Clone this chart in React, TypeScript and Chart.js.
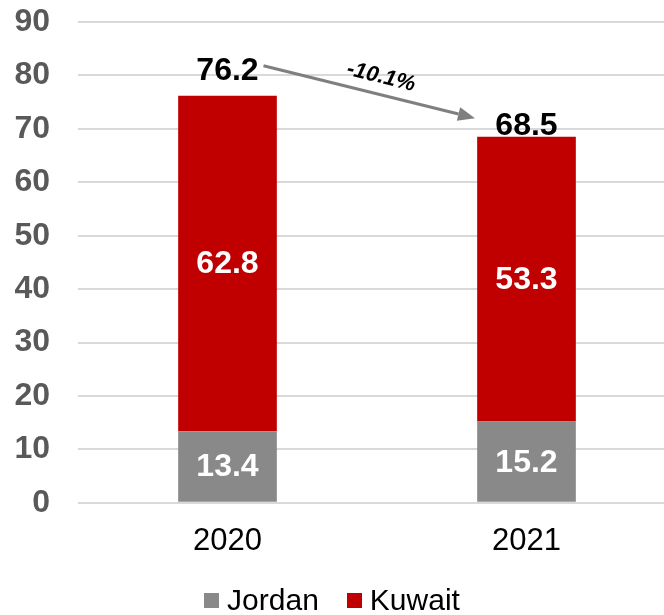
import React, { useEffect, useRef } from "react";
import { Chart, registerables } from "chart.js";

Chart.register(...registerables);

// ---- data ----
const categories = ["2020", "2021"];
const seriesNames = ["Jordan", "Kuwait"];
const jordanValues = [13.4, 15.2];
const kuwaitValues = [62.8, 53.3];
const seriesColors = ["#898989", "#C00000"];
const yMin = 0;
const yMax = 90;
const yStep = 10;

const FONT = '"Liberation Sans", Arial, Helvetica, sans-serif';

// label offsets above each stacked bar (style)
const totalLabelDy = [-26, -12];

const labelPlugin = {
  id: "labelPlugin",
  afterDatasetsDraw(chart: any) {
    const ctx = chart.ctx as CanvasRenderingContext2D;
    ctx.save();
    ctx.textAlign = "center";
    ctx.textBaseline = "middle";
    ctx.font = `bold 32px ${FONT}`;
    ctx.fillStyle = "#ffffff";
    chart.data.datasets.forEach((ds: any, di: number) => {
      const meta = chart.getDatasetMeta(di);
      meta.data.forEach((el: any, i: number) => {
        const { x, y, base } = el.getProps(["x", "y", "base"], true);
        ctx.fillText(Number(ds.data[i]).toFixed(1), x, (y + base) / 2 + 1);
      });
    });

    // totals
    const topMeta = chart.getDatasetMeta(chart.data.datasets.length - 1);
    const totals = categories.map((_, i) => jordanValues[i] + kuwaitValues[i]);
    ctx.fillStyle = "#000000";
    const pts = topMeta.data.map((el: any) => el.getProps(["x", "y"], true));
    pts.forEach((p: any, i: number) => {
      ctx.fillText(totals[i].toFixed(1), p.x, p.y + totalLabelDy[i] + 1);
    });

    // arrow between totals
    if (pts.length >= 2) {
      const sx = pts[0].x + 36;
      const sy = pts[0].y - 30;
      const ex = pts[1].x - 51.5;
      const ey = pts[1].y - 18.7;
      const ang = Math.atan2(ey - sy, ex - sx);
      const headLen = 17;
      const headHalf = 7;
      const bx = ex - headLen * Math.cos(ang);
      const by = ey - headLen * Math.sin(ang);
      ctx.strokeStyle = "#7F7F7F";
      ctx.fillStyle = "#7F7F7F";
      ctx.lineWidth = 3;
      ctx.beginPath();
      ctx.moveTo(sx, sy);
      ctx.lineTo(bx, by);
      ctx.stroke();
      ctx.beginPath();
      ctx.moveTo(ex, ey);
      ctx.lineTo(bx + headHalf * Math.sin(ang), by - headHalf * Math.cos(ang));
      ctx.lineTo(bx - headHalf * Math.sin(ang), by + headHalf * Math.cos(ang));
      ctx.closePath();
      ctx.fill();

      const change = ((totals[1] - totals[0]) / totals[0]) * 100;
      const t = 0.536;
      const d = 18.4;
      const cx = sx + t * (ex - sx) + d * Math.sin(ang);
      const cy = sy + t * (ey - sy) - d * Math.cos(ang);
      ctx.translate(cx, cy);
      ctx.rotate(ang);
      ctx.fillStyle = "#000000";
      ctx.font = `italic bold 22px ${FONT}`;
      ctx.fillText(`${change.toFixed(1)}%`, 0, 1);
    }
    ctx.restore();
  },
};

export default function App() {
  const canvasRef = useRef<HTMLCanvasElement | null>(null);

  useEffect(() => {
    const canvas = canvasRef.current;
    if (!canvas) return;
    const chart = new Chart(canvas, {
      type: "bar",
      data: {
        labels: categories,
        datasets: [
          {
            label: seriesNames[0],
            data: jordanValues,
            backgroundColor: seriesColors[0],
            borderWidth: 0,
          },
          {
            label: seriesNames[1],
            data: kuwaitValues,
            backgroundColor: seriesColors[1],
            borderWidth: 0,
          },
        ],
      },
      options: {
        responsive: false,
        animation: false,
        devicePixelRatio: 1,
        layout: { padding: { top: 22, bottom: 35, left: 0, right: 0 } },
        datasets: {
          bar: { categoryPercentage: 1, barPercentage: 0.33 },
        },
        scales: {
          x: {
            stacked: true,
            grid: { display: false, drawTicks: false },
            border: { display: false },
            ticks: {
              color: "#000000",
              font: { family: FONT, size: 31 },
              padding: 20,
            },
          },
          y: {
            stacked: true,
            min: yMin,
            max: yMax,
            afterFit: (scale: any) => {
              scale.width = 78;
              scale.paddingTop = 0;
              scale.paddingBottom = 0;
            },
            grid: { color: "#D9D9D9", lineWidth: 2, drawTicks: false },
            border: { display: false },
            ticks: {
              stepSize: yStep,
              color: "#595959",
              font: { family: FONT, size: 32, weight: "bold" },
              padding: 28,
            },
          },
        },
        plugins: {
          legend: { display: false },
          tooltip: { enabled: false },
        },
      },
      plugins: [labelPlugin],
    });
    return () => chart.destroy();
  }, []);

  return (
    <div
      style={{
        position: "fixed",
        left: 0,
        top: 0,
        width: 664,
        height: 615,
        overflow: "hidden",
        background: "#ffffff",
      }}
    >
      <canvas
        ref={canvasRef}
        width={676}
        height={615}
        style={{ position: "absolute", left: 0, top: 0, width: 676, height: 615 }}
      />
      <div
        style={{
          position: "absolute",
          left: 0,
          top: 585,
          width: 664,
          display: "flex",
          justifyContent: "center",
          alignItems: "center",
          gap: 28,
          fontFamily: FONT,
          fontSize: 30,
          lineHeight: "30px",
          color: "#000000",
        }}
      >
        {seriesNames.map((name, i) => (
          <div key={name} style={{ display: "flex", alignItems: "center" }}>
            <span
              style={{
                display: "inline-block",
                width: 15,
                height: 15,
                background: seriesColors[i],
                marginRight: 8,
              }}
            />
            <span>{name}</span>
          </div>
        ))}
      </div>
    </div>
  );
}
